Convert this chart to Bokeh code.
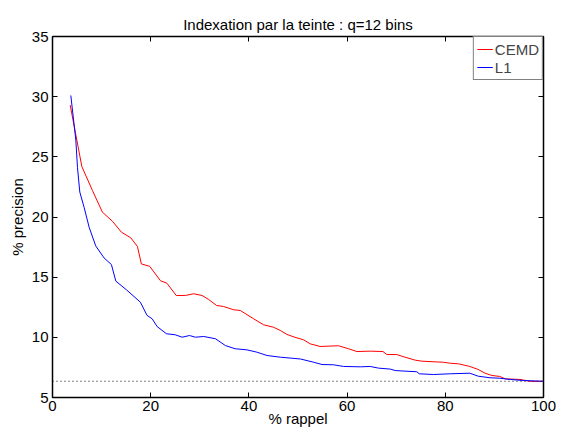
from bokeh.plotting import figure
from bokeh.models import Range1d, LinearAxis, FixedTicker, Legend, LegendItem
from bokeh.embed import file_html
from bokeh.resources import INLINE

# Data
cemd_x = [3.6, 5.97, 8.14, 10.17, 12.2, 14.04, 15.94, 17.3, 18.1, 19.8, 22.0, 23.3, 25.2, 27.1,
          28.75, 30.45, 31.8, 33.4, 34.85, 36.9, 38.25, 40.96, 43.0, 45.0, 46.4, 47.75, 49.4,
          51.1, 52.5, 54.5, 58.25, 60.3, 62.0, 64.7, 67.3, 68.1, 70.1, 71.8, 73.9, 75.2, 79.6,
          81.0, 82.7, 85.0, 86.7, 88.1, 89.5, 91.1, 92.2, 95.2, 97.6, 100]
cemd_y = [29.3, 24.2, 22.2, 20.4, 19.65, 18.74, 18.27, 17.55, 16.1, 15.9, 14.7, 14.5, 13.48, 13.48,
          13.62, 13.48, 13.15, 12.65, 12.56, 12.29, 12.23, 11.54, 11.04, 10.84, 10.57, 10.24, 10.0,
          9.8, 9.46, 9.24, 9.3, 9.05, 8.82, 8.85, 8.82, 8.57, 8.57, 8.35, 8.1, 8.02, 7.93,
          7.85, 7.8, 7.58, 7.33, 7.02, 6.83, 6.75, 6.55, 6.5, 6.33, 6.35]

l1_x = [3.73, 4.75, 5.09, 5.56, 6.44, 7.46, 8.8, 10.5, 12.0, 12.9, 15.06, 17.9, 19.26, 20.3, 21.3,
        23.2, 25.0, 26.4, 27.9, 29.1, 30.8, 33.2, 35.2, 37.2, 39.6, 41.6, 43.7, 46.4, 50.5, 53.2,
        54.9, 57.2, 59.3, 62.7, 64.7, 66.4, 68.8, 69.8, 71.8, 74.2, 74.7, 77.6, 81.0, 85.0, 86.7,
        89.1, 91.1, 93.2, 95.9, 100]
l1_y = [30.1, 26.4, 24.1, 22.07, 20.8, 19.15, 17.6, 16.6, 16.05, 14.67, 13.95, 12.92, 11.82, 11.54,
        10.9, 10.3, 10.21, 10.01, 10.15, 10.01, 10.07, 9.88, 9.32, 9.05, 8.96, 8.77, 8.49, 8.35, 8.2,
        7.93, 7.74, 7.72, 7.58, 7.55, 7.58, 7.44, 7.36, 7.24, 7.19, 7.14, 6.97, 6.91, 6.97, 7.02,
        6.77, 6.64, 6.6, 6.5, 6.41, 6.35]

baseline = 6.35
x_ticks = [0, 20, 40, 60, 80, 100]
y_ticks = [5, 10, 15, 20, 25, 30, 35]

FONT = "Liberation Sans"
FS = "15px"

p = figure(width=566, height=432, output_backend="svg", toolbar_location=None,
           x_range=Range1d(0, 100), y_range=Range1d(5, 35),
           x_axis_location=None, y_axis_location=None,
           min_border_left=52, min_border_right=23, min_border_top=36, min_border_bottom=35,
           title="Indexation par la teinte : q=12 bins")
p.grid.visible = False
p.outline_line_color = "black"
p.outline_line_width = 1
p.background_fill_color = "white"
p.border_fill_color = "white"

p.title.align = "center"
p.title.text_font = FONT
p.title.text_font_size = FS
p.title.text_font_style = "normal"
p.title.text_color = "black"
p.title.standoff = 7


def style(ax, labels=True):
    ax.axis_line_color = "black"
    ax.axis_line_width = 1.5
    ax.major_tick_in = 5
    ax.major_tick_out = 0
    ax.minor_tick_line_color = None
    ax.major_tick_line_color = "black"
    ax.major_label_text_font = FONT
    ax.major_label_text_font_size = FS if labels else "0px"
    ax.major_label_text_color = "black"
    ax.major_label_standoff = 3
    ax.axis_label_text_font = FONT
    ax.axis_label_text_font_size = FS
    ax.axis_label_text_font_style = "normal"
    ax.axis_label_text_color = "black"


xb = LinearAxis(ticker=FixedTicker(ticks=x_ticks), axis_label="% rappel")
style(xb)
xb.axis_label_standoff = -4
yl = LinearAxis(ticker=FixedTicker(ticks=y_ticks), axis_label="% precision")
style(yl)
yl.major_label_standoff = 4
yl.axis_label_standoff = 3
xt = LinearAxis(ticker=FixedTicker(ticks=x_ticks))
style(xt, labels=False)
xt.major_label_standoff = 0
yr = LinearAxis(ticker=FixedTicker(ticks=y_ticks))
style(yr, labels=False)
yr.major_label_standoff = 0

p.add_layout(xb, "below")
p.add_layout(yl, "left")
p.add_layout(xt, "above")
p.add_layout(yr, "right")

p.line([0, 100], [baseline, baseline], line_color="black", line_dash="1 3", line_width=1)
r1 = p.line(cemd_x, cemd_y, line_color="#ff0000", line_width=1)
r2 = p.line(l1_x, l1_y, line_color="#0000ff", line_width=1)

legend = Legend(items=[LegendItem(label="CEMD", renderers=[r1]),
                       LegendItem(label="L1", renderers=[r2])],
                location="top_right", margin=0, padding=3, spacing=0,
                glyph_width=16, glyph_height=18, label_height=18, label_standoff=2,
                label_text_font=FONT, label_text_font_size=FS,
                border_line_color="black", border_line_width=1.5,
                background_fill_color="white", background_fill_alpha=1)
p.add_layout(legend)

open("out.html", "w").write(file_html(p, INLINE))
